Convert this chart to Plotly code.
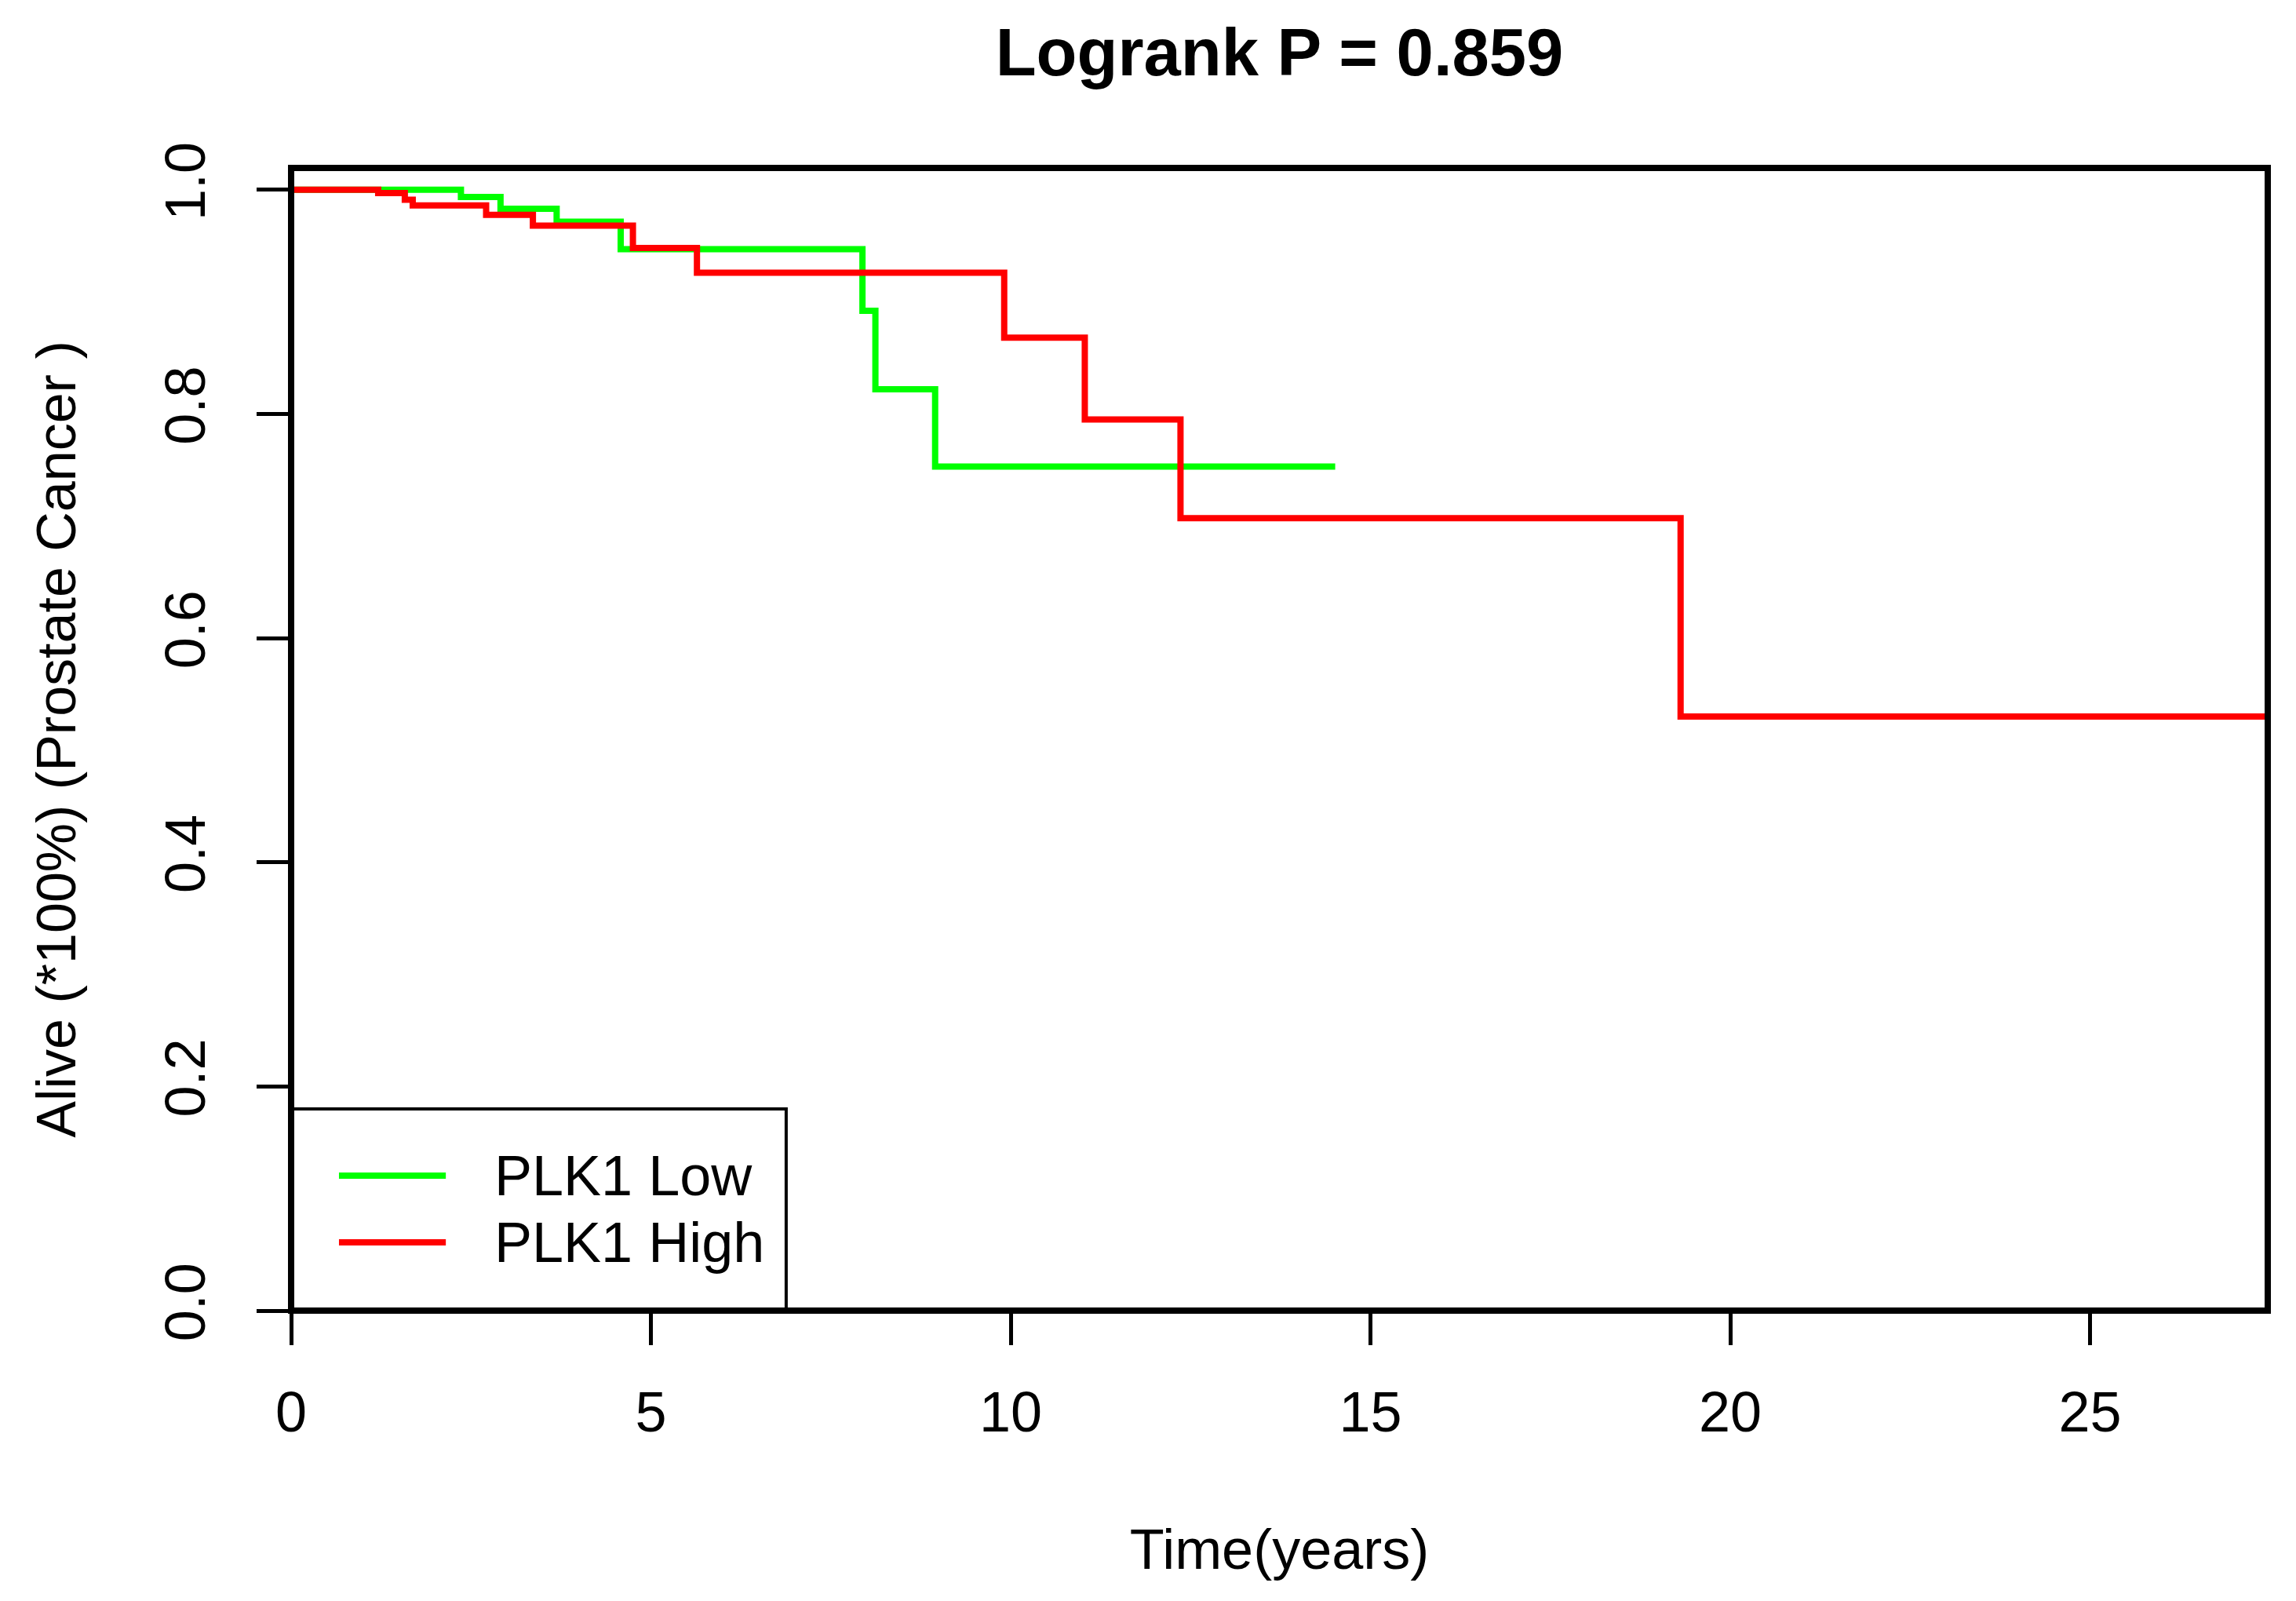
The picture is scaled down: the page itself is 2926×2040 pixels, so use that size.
import plotly.graph_objects as go

# ---- data ----
low_time = [0, 2.36, 2.91, 3.69, 4.58, 7.94, 8.12, 8.95, 14.51]
low_surv = [1.0, 0.9935, 0.983, 0.9715, 0.947, 0.892, 0.822, 0.753, 0.753]

high_time = [0, 1.21, 1.58, 1.69, 2.71, 3.36, 4.75, 5.64, 9.91, 11.03, 12.36, 19.31, 27.47]
high_surv = [1.0, 0.997, 0.991, 0.986, 0.9775, 0.968, 0.948, 0.926, 0.868, 0.795, 0.707, 0.530, 0.530]

series_names = ["PLK1 Low", "PLK1 High"]
series_colors = ["#00FF00", "#FF0000"]

x_ticks = [0, 5, 10, 15, 20, 25]
y_ticks = [0.0, 0.2, 0.4, 0.6, 0.8, 1.0]
y_tick_labels = ["0.0", "0.2", "0.4", "0.6", "0.8", "1.0"]

title_text = "Logrank P = 0.859"
x_title = "Time(years)"
y_title = "Alive (*100%) (Prostate Cancer )"

FONT = "Liberation Sans, Arial, Helvetica, sans-serif"
W, H = 2926, 2040
BODY = 8  # default page margin of the html body
X_MAX = 27.47
Y_MAX = 1.0194

fig = go.Figure()
for t, s, name, col in zip([low_time, high_time], [low_surv, high_surv], series_names, series_colors):
    fig.add_trace(go.Scatter(
        x=t, y=s, mode="lines", name=name,
        line=dict(color=col, width=8, shape="hv"),
        showlegend=False,
    ))

# manual R-style legend (box, sample lines, labels)
leg_box = dict(x0=0, x1=6.88, y0=0, y1=0.18)
leg_rows_y = [0.1204, 0.0609]
fig.add_shape(type="rect", xref="x", yref="y", **leg_box,
              line=dict(color="black", width=4), fillcolor="rgba(0,0,0,0)", layer="above")
for yy, name, col in zip(leg_rows_y, series_names, series_colors):
    fig.add_shape(type="line", xref="x", yref="y", x0=0.665, x1=2.15, y0=yy, y1=yy,
                  line=dict(color=col, width=8), layer="above")
    fig.add_annotation(x=2.8, y=yy, xref="x", yref="y", text=name, showarrow=False,
                       xanchor="left", yanchor="middle",
                       font=dict(family=FONT, size=72, color="black"))

# plot box
fig.add_shape(type="rect", xref="paper", yref="paper", x0=0, x1=1, y0=0, y1=1,
              line=dict(color="black", width=8), layer="above")

fig.update_layout(
    width=W, height=H,
    margin=dict(l=371 - BODY, r=36 + BODY, t=214 - BODY, b=370 + BODY),
    paper_bgcolor="white", plot_bgcolor="white",
    font=dict(family=FONT, size=72, color="black"),
    title=dict(text="<b>" + title_text + "</b>", x=0.5, xref="paper",
               y=1 - 58 / H, yref="container", yanchor="middle", xanchor="center",
               font=dict(family=FONT, size=85, color="black")),
    xaxis=dict(range=[0, X_MAX], tickvals=x_ticks, ticks="outside", ticklen=43, tickwidth=4.5,
               tickcolor="black", showgrid=False, zeroline=False, showline=False,
               tickfont=dict(family=FONT, size=72, color="black"), ticklabelstandoff=24,
               title=dict(text=x_title, standoff=110, font=dict(family=FONT, size=72, color="black"))),
    yaxis=dict(range=[0, Y_MAX], tickvals=y_ticks, ticktext=y_tick_labels, ticks="outside",
               ticklen=43, tickwidth=4.5, tickcolor="black", showgrid=False, zeroline=False,
               showline=False, tickangle=-90,
               tickfont=dict(family=FONT, size=72, color="black"), ticklabelstandoff=37,
               title=dict(text=y_title, standoff=76, font=dict(family=FONT, size=70, color="black"))),
)

fig.write_html("out.html")
